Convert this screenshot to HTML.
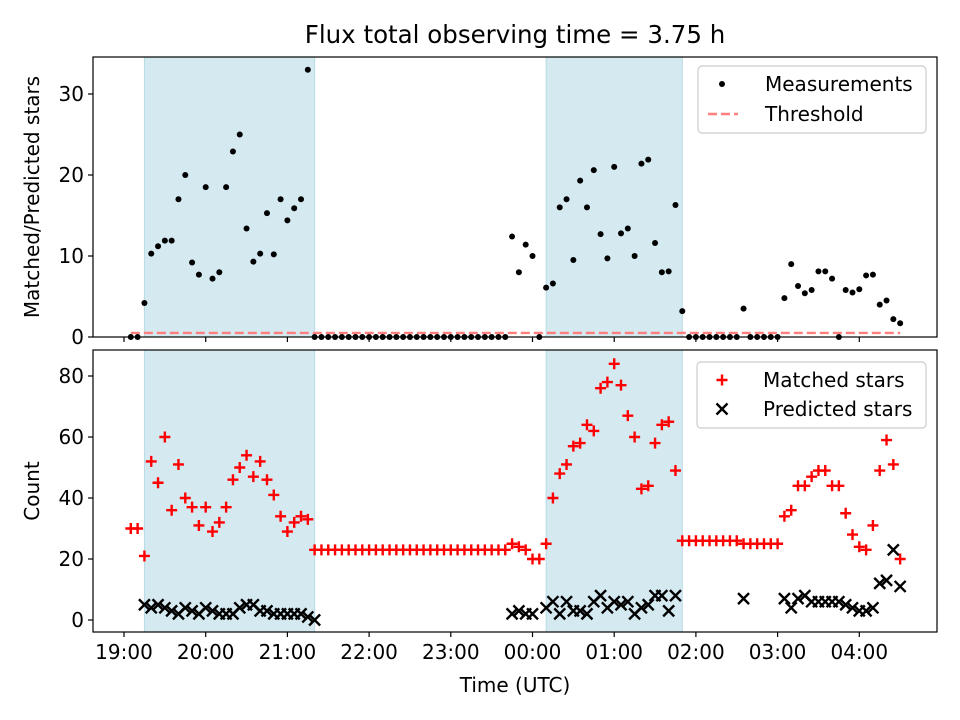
<!DOCTYPE html>
<html><head><meta charset="utf-8"><style>
body{margin:0;background:#fff;}
svg{display:block;font-family:"DejaVu Sans","Liberation Sans",sans-serif;}
</style></head><body>
<svg id="chart" width="960" height="720" viewBox="0 0 960 720" xmlns="http://www.w3.org/2000/svg">
<rect width="960" height="720" fill="#fff"/>
<text x="515" y="43" text-anchor="middle" font-size="24.5">Flux total observing time = 3.75 h</text>
<g id="top"></g><g id="bot"></g>
</svg>
<script>
// minutes after 19:00
const times=[5,10,15,20,25,30,35,40,45,50,55,60,65,70,75,80,85,90,95,100,105,110,115,120,125,130,135,140,145,150,155,160,165,170,175,180,185,190,195,200,205,210,215,220,225,230,235,240,245,250,255,260,265,270,275,280,285,290,295,300,305,310,315,320,325,330,335,340,345,350,355,360,365,370,375,380,385,390,395,400,405,410,415,420,425,430,435,440,445,450,455,460,465,470,475,480,485,490,495,500,505,510,515,520,525,530,535,540,545,550,555,560,565,570];
const measurements=[0,0,4.2,10.3,11.2,11.9,11.9,17.0,20.0,9.2,7.7,18.5,7.2,8.0,18.5,22.9,25.0,13.4,9.3,10.3,15.3,10.2,17.0,14.4,15.9,17.0,33.0,
0,0,0,0,0,0,0,0,0,0,0,0,0,0,0,0,0,0,0,0,0,0,0,0,0,0,0,0,0,
12.4,8.0,11.4,10.0,0,6.1,6.6,16.0,17.0,9.5,19.3,16.0,20.6,12.7,9.7,21.0,12.8,13.4,10.0,21.4,21.9,11.6,8.0,8.1,16.3,3.2,
0,0,0,0,0,0,0,0,3.5,0,0,0,0,0,4.8,9.0,6.3,5.4,5.8,8.1,8.1,7.2,0,5.8,5.5,5.9,7.6,7.7,4.0,4.5,2.2,1.7];
const matched=[30,30,21,52,45,60,36,51,40,37,31,37,29,32,37,46,50,54,47,52,46,41,34,29,32,34,33,
23,23,23,23,23,23,23,23,23,23,23,23,23,23,23,23,23,23,23,23,23,23,23,23,23,23,23,23,23,
25,24,23,20,20,25,40,48,51,57,58,64,62,76,78,84,77,67,60,43,44,58,64,65,49,
26,26,26,26,26,26,26,26,26,25,25,25,25,25,25,
34,36,44,44,47,49,49,44,44,35,28,24,23,31,49,59,51,20];
const predicted=[null,null,5,4,5,4,3,2,4,3,2,4,3,2,2,2,4,5,5,3,3,2,2,2,2,2,1,0,
null,null,null,null,null,null,null,null,null,null,null,null,null,null,null,null,null,null,null,null,null,null,null,null,null,null,null,null,
2,3,2,2,null,4,6,2,6,3,3,2,6,8,4,6,5,6,2,4,5,8,8,3,8,
null,null,null,null,null,null,null,null,null,7,null,null,null,null,null,
7,4,7,8,6,6,6,6,6,5,4,3,3,4,12,13,23,11];
const threshold=0.5;
const spans=[[15,140],[310,410]];
const xTicks=[0,60,120,180,240,300,360,420,480,540];
const xTickLabels=["19:00","20:00","21:00","22:00","23:00","00:00","01:00","02:00","03:00","04:00"];
const topTicks=[0,10,20,30];
const botTicks=[0,20,40,60,80];

const NS="http://www.w3.org/2000/svg";
const L=93,R=937,FS=20;
const xs=m=>124+m/60*81.7;
const yTop=v=>337-v*8.1;
const yBot=v=>620-v*3.05;
function mk(p,tag,a){const e=document.createElementNS(NS,tag);for(const k in a)e.setAttribute(k,a[k]);p.appendChild(e);return e;}

function axes(g,t,b,yf,ticks,showX){
  spans.forEach(s=>{
    const r=mk(g,'rect',{x:xs(s[0]),y:t,width:xs(s[1])-xs(s[0]),height:b-t,fill:'#d4e9f0',stroke:'#b8dbe6','stroke-width':1});
    
    
  });
  ticks.forEach(v=>{
    const y=yf(v);
    const l=mk(g,'line',{x1:L-5,x2:L,y1:y,y2:y,stroke:'#000','stroke-width':1.2});
    
    
    const tx=mk(g,'text',{x:L-9,y:y+7,'text-anchor':'end','font-size':FS});
    tx.textContent=v;
    
    
  });
  xTicks.forEach((m,i)=>{
    const x=xs(m);
    const l=mk(g,'line',{x1:x,x2:x,y1:b,y2:b+5,stroke:'#000','stroke-width':1.2});
    
    
    if(showX){
      const tx=mk(g,'text',{x:x,y:b+27,'text-anchor':'middle','font-size':FS});
      tx.textContent=xTickLabels[i];
      
      
    }
  });
}
function frame(g,t,b){
  const f=mk(g,'rect',{x:L,y:t,width:R-L,height:b-t,fill:'none',stroke:'#000','stroke-width':1.2});
  
  
}
function plus(g,x,y,c){
  return mk(g,'path',{d:`M${x-5.5} ${y}H${x+5.5}M${x} ${y-5.5}V${y+5.5}`,stroke:c,'stroke-width':2.4});
}
function cross(g,x,y,c){
  return mk(g,'path',{d:`M${x-5.5} ${y-5.5}L${x+5.5} ${y+5.5}M${x-5.5} ${y+5.5}L${x+5.5} ${y-5.5}`,stroke:c,'stroke-width':2.4});
}

// TOP
const gt=document.getElementById('top');
axes(gt,57,337,yTop,topTicks,false);
const th=mk(gt,'line',{x1:xs(times[0]),x2:xs(times[times.length-1]),y1:yTop(threshold),y2:yTop(threshold),stroke:'#ff7f7f','stroke-width':2.4,'stroke-dasharray':'9 4'});


measurements.forEach((v,i)=>{
  if(v===null)return;
  const c=mk(gt,'circle',{cx:xs(times[i]),cy:yTop(v),r:3,fill:'#000'});
  
  
});
frame(gt,57,337);
let yl=mk(gt,'text',{x:0,y:0,'font-size':FS,'text-anchor':'middle',transform:'translate(39,197) rotate(-90)'});
yl.textContent='Matched/Predicted stars';


let lg=mk(gt,'g',{});


mk(lg,'rect',{x:698,y:66,width:228,height:67,rx:4,fill:'#fff','fill-opacity':0.8,stroke:'#ccc','stroke-width':1.2});
mk(lg,'circle',{cx:722,cy:84,r:3,fill:'#000'});
let t1=mk(lg,'text',{x:765,y:91,'font-size':FS});t1.textContent='Measurements';


mk(lg,'line',{x1:708,x2:738,y1:114,y2:114,stroke:'#ff7f7f','stroke-width':2.4,'stroke-dasharray':'9 4'});
let t2=mk(lg,'text',{x:765,y:121,'font-size':FS});t2.textContent='Threshold';



// BOTTOM
const gb=document.getElementById('bot');
axes(gb,350,632,yBot,botTicks,true);
matched.forEach((v,i)=>{
  if(v===null)return;
  const p=plus(gb,xs(times[i]),yBot(v),'#ff0000');
  
  
});
predicted.forEach((v,i)=>{
  if(v===null)return;
  const p=cross(gb,xs(times[i]),yBot(v),'#000');
  
  
});
frame(gb,350,632);
yl=mk(gb,'text',{x:0,y:0,'font-size':FS,'text-anchor':'middle',transform:'translate(39,491) rotate(-90)'});
yl.textContent='Count';


let xl=mk(gb,'text',{x:515,y:692,'font-size':FS,'text-anchor':'middle'});
xl.textContent='Time (UTC)';


lg=mk(gb,'g',{});


mk(lg,'rect',{x:697,y:362,width:229,height:66,rx:4,fill:'#fff','fill-opacity':0.8,stroke:'#ccc','stroke-width':1.2});
plus(lg,722,380,'#ff0000');
t1=mk(lg,'text',{x:763,y:387,'font-size':FS});t1.textContent='Matched stars';


cross(lg,722,409,'#000');
t2=mk(lg,'text',{x:763,y:416,'font-size':FS});t2.textContent='Predicted stars';


</script>
</body></html>
